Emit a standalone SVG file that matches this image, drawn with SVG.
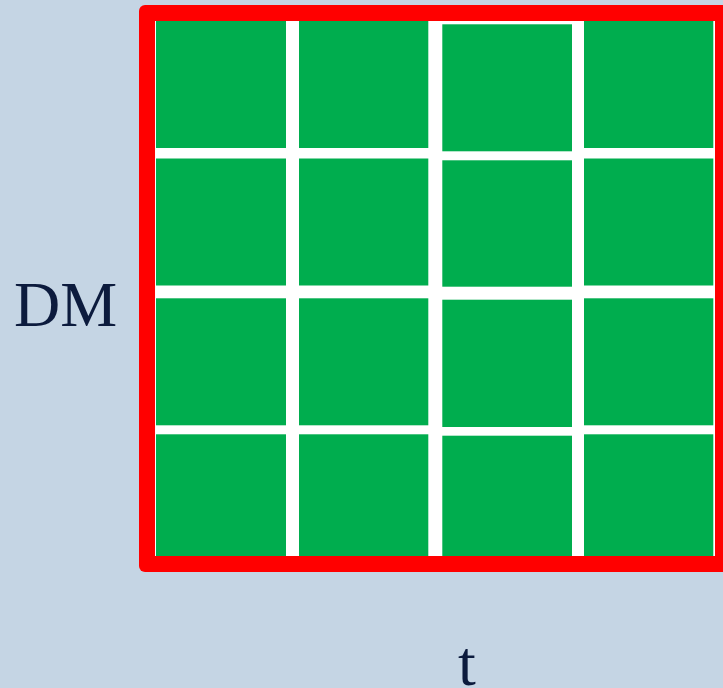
<svg xmlns="http://www.w3.org/2000/svg" width="723" height="688" viewBox="0 0 723 688">
<style>
.cell{fill:#00AD4E}
.lbl{font-family:"Liberation Serif","Times New Roman",serif;font-size:64px;fill:#0C1B3D}
</style>
<rect x="0" y="0" width="723" height="688" fill="#C5D5E4"/>
<g id="frame">
<rect x="139" y="5" width="592" height="567" rx="6" fill="#FF0000"/>
<rect x="155" y="21" width="560" height="535" fill="#FFFFFF"/>
</g>
<g id="grid">
<rect class="cell" x="156" y="21" width="130" height="127"/>
<rect class="cell" x="156" y="158.5" width="130" height="127"/>
<rect class="cell" x="156" y="298.3" width="130" height="127"/>
<rect class="cell" x="156" y="434.3" width="130" height="121.7"/>
<rect class="cell" x="299" y="21" width="129.3" height="127"/>
<rect class="cell" x="299" y="158.5" width="129.3" height="127"/>
<rect class="cell" x="299" y="298.3" width="129.3" height="127"/>
<rect class="cell" x="299" y="434.3" width="129.3" height="121.7"/>
<rect class="cell" x="442.3" y="24.3" width="129.7" height="127"/>
<rect class="cell" x="442.3" y="160.3" width="129.7" height="126.4"/>
<rect class="cell" x="442.3" y="299.7" width="129.7" height="127.3"/>
<rect class="cell" x="442.3" y="435.7" width="129.7" height="120.3"/>
<rect class="cell" x="584" y="21" width="129.3" height="127"/>
<rect class="cell" x="584" y="158.5" width="129.3" height="127"/>
<rect class="cell" x="584" y="298.3" width="129.3" height="127"/>
<rect class="cell" x="584" y="434.3" width="129.3" height="121.7"/>
</g>
<g id="labels">
<text class="lbl" x="14" y="326">DM</text>
<text class="lbl" x="467" y="685" text-anchor="middle">t</text>
</g>
</svg>
